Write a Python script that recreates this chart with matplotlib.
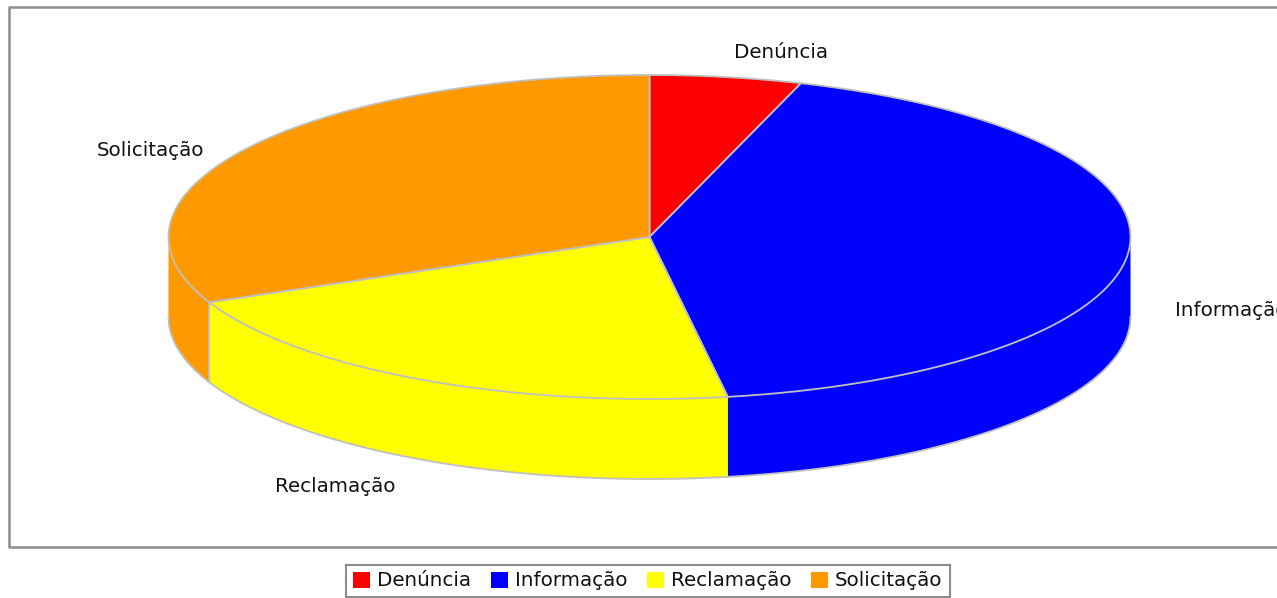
import numpy as np
import matplotlib
matplotlib.use("Agg")
import matplotlib.pyplot as plt
from matplotlib.patches import Patch

categories = ["Denúncia", "Informação", "Reclamação", "Solicitação"]
shares = [5.1, 42.3, 21.0, 31.6]
colors = ["#ff0000", "#0000ff", "#ffff00", "#ff9900"]

W, H = 1277, 598
CX, CY, RX, RY, DEPTH = 649.5, 237, 481, 162, 80
EDGE = "#c0c0c0"
TXT = "#111111"
FS = 14.3

label_xy = {"Denúncia": (781, 52), "Informação": (1175, 311),
            "Reclamação": (335, 487), "Solicitação": (151, 150)}
label_ha = {"Informação": "left"}

fig = plt.figure(figsize=(W / 100, H / 100), dpi=100)
ax = fig.add_axes([0, 0, 1, 1])
ax.set_xlim(0, W)
ax.set_ylim(H, 0)
ax.axis("off")


def rim(a0, a1, dy=0.0):
    """Ellipse points for angles (degrees clockwise from the top)."""
    t = np.radians(np.linspace(a0, a1, max(int(abs(a1 - a0)) * 4, 2)))
    return CX + RX * np.sin(t), CY - RY * np.cos(t) + dy


# chart frame (runs off the right edge)
ax.plot([W + 5, 9, 9, W + 5], [7, 7, 547, 547], color="#8c8c8c", lw=1.8, zorder=1)

edges = np.concatenate([[0], np.cumsum(shares)]) / np.sum(shares) * 360

# side walls, visible only on the front half
for a0, a1, c in zip(edges[:-1], edges[1:], colors):
    lo, hi = max(a0, 90), min(a1, 270)
    if lo >= hi:
        continue
    x, y = rim(lo, hi)
    xb, yb = rim(hi, lo, DEPTH)
    ax.fill(np.r_[x, xb], np.r_[y, yb], facecolor=c, edgecolor="none", zorder=2)
    if lo > 90 and c == colors[3]:
        ax.plot(x[[0, 0]], [y[0], y[0] + DEPTH], color=EDGE, lw=1.3, zorder=2.5)
    ax.plot(xb, yb, color=EDGE, lw=1.3, zorder=2.5)

# top surface
for a0, a1, c in zip(edges[:-1], edges[1:], colors):
    x, y = rim(a0, a1)
    ax.fill(np.r_[CX, x], np.r_[CY, y], facecolor=c, edgecolor=EDGE, lw=1.3,
            joinstyle="round", zorder=3)

for name in categories:
    x, y = label_xy[name]
    ax.text(x, y, name, ha=label_ha.get(name, "center"), va="center",
            fontsize=FS, color=TXT, zorder=5, clip_on=True)

handles = [Patch(facecolor=c, edgecolor="none", label=n) for n, c in zip(categories, colors)]
leg = ax.legend(handles=handles, ncol=4, loc="center", bbox_to_anchor=(648, 581),
                bbox_transform=ax.transData, fancybox=False, framealpha=1,
                edgecolor="#8c8c8c", fontsize=FS, handlelength=0.85, handleheight=0.85,
                handletextpad=0.35, columnspacing=1.0, borderpad=0.35, borderaxespad=0)
leg.get_frame().set_linewidth(1.5)
for t in leg.get_texts():
    t.set_color(TXT)

fig.savefig("out.png", dpi=100)
